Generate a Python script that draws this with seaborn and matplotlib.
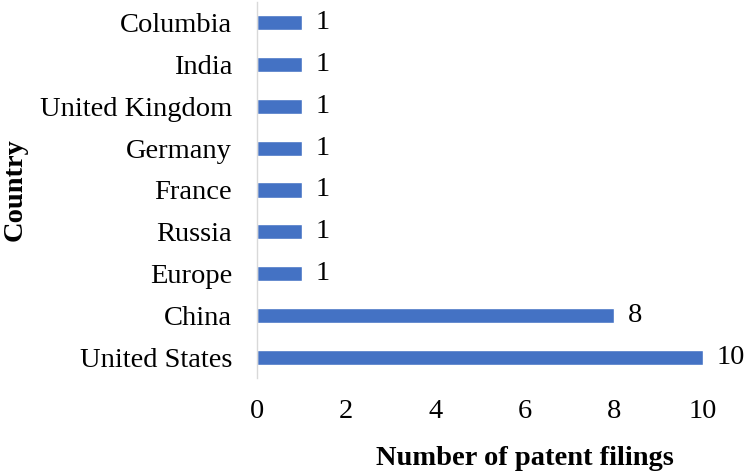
import matplotlib
matplotlib.use("Agg")
import matplotlib.pyplot as plt
import seaborn as sns
import pandas as pd

countries = ["Columbia", "India", "United Kingdom", "Germany", "France",
             "Russia", "Europe", "China", "United States"]
filings = [1, 1, 1, 1, 1, 1, 1, 8, 10]
xticks = [0, 2, 4, 6, 8, 10]

sns.set_style("white")
plt.rcParams["font.family"] = ["Liberation Serif", "DejaVu Serif"]
plt.rcParams["text.color"] = "black"
plt.rcParams["xtick.color"] = "black"
plt.rcParams["ytick.color"] = "black"
plt.rcParams["axes.labelcolor"] = "black"

df = pd.DataFrame({"Country": countries, "Filings": filings})

fig = plt.figure(figsize=(7.48, 4.72), dpi=100)
ax = fig.add_axes([0.3436, 0.199, 0.5963, 0.797])

sns.barplot(data=df, x="Filings", y="Country", color="#4472C4",
            width=0.36, saturation=1, ax=ax)

for cont in ax.containers:
    ax.bar_label(cont, labels=[str(v) for v in filings], padding=10,
                 fontsize=20.5, color="black")

ax.set_xlim(0, 10)
ax.set_xticks(xticks)
ax.set_xticklabels([str(t) for t in xticks])
ax.tick_params(axis="both", length=0, labelsize=20.5)
ax.tick_params(axis="x", pad=15)
ax.tick_params(axis="y", pad=18)

for side in ["top", "right", "bottom"]:
    ax.spines[side].set_visible(False)
ax.spines["left"].set_color("#d9d9d9")
ax.spines["left"].set_linewidth(1)

ax.set_xlabel("Number of patent filings", fontsize=20.5, fontweight="bold")
ax.set_ylabel("Country", fontsize=20.5, fontweight="bold")
ax.xaxis.set_label_coords(0.6, -0.18)
ax.yaxis.set_label_coords(-0.515, 0.5)

fig.savefig("out.png", dpi=100)
